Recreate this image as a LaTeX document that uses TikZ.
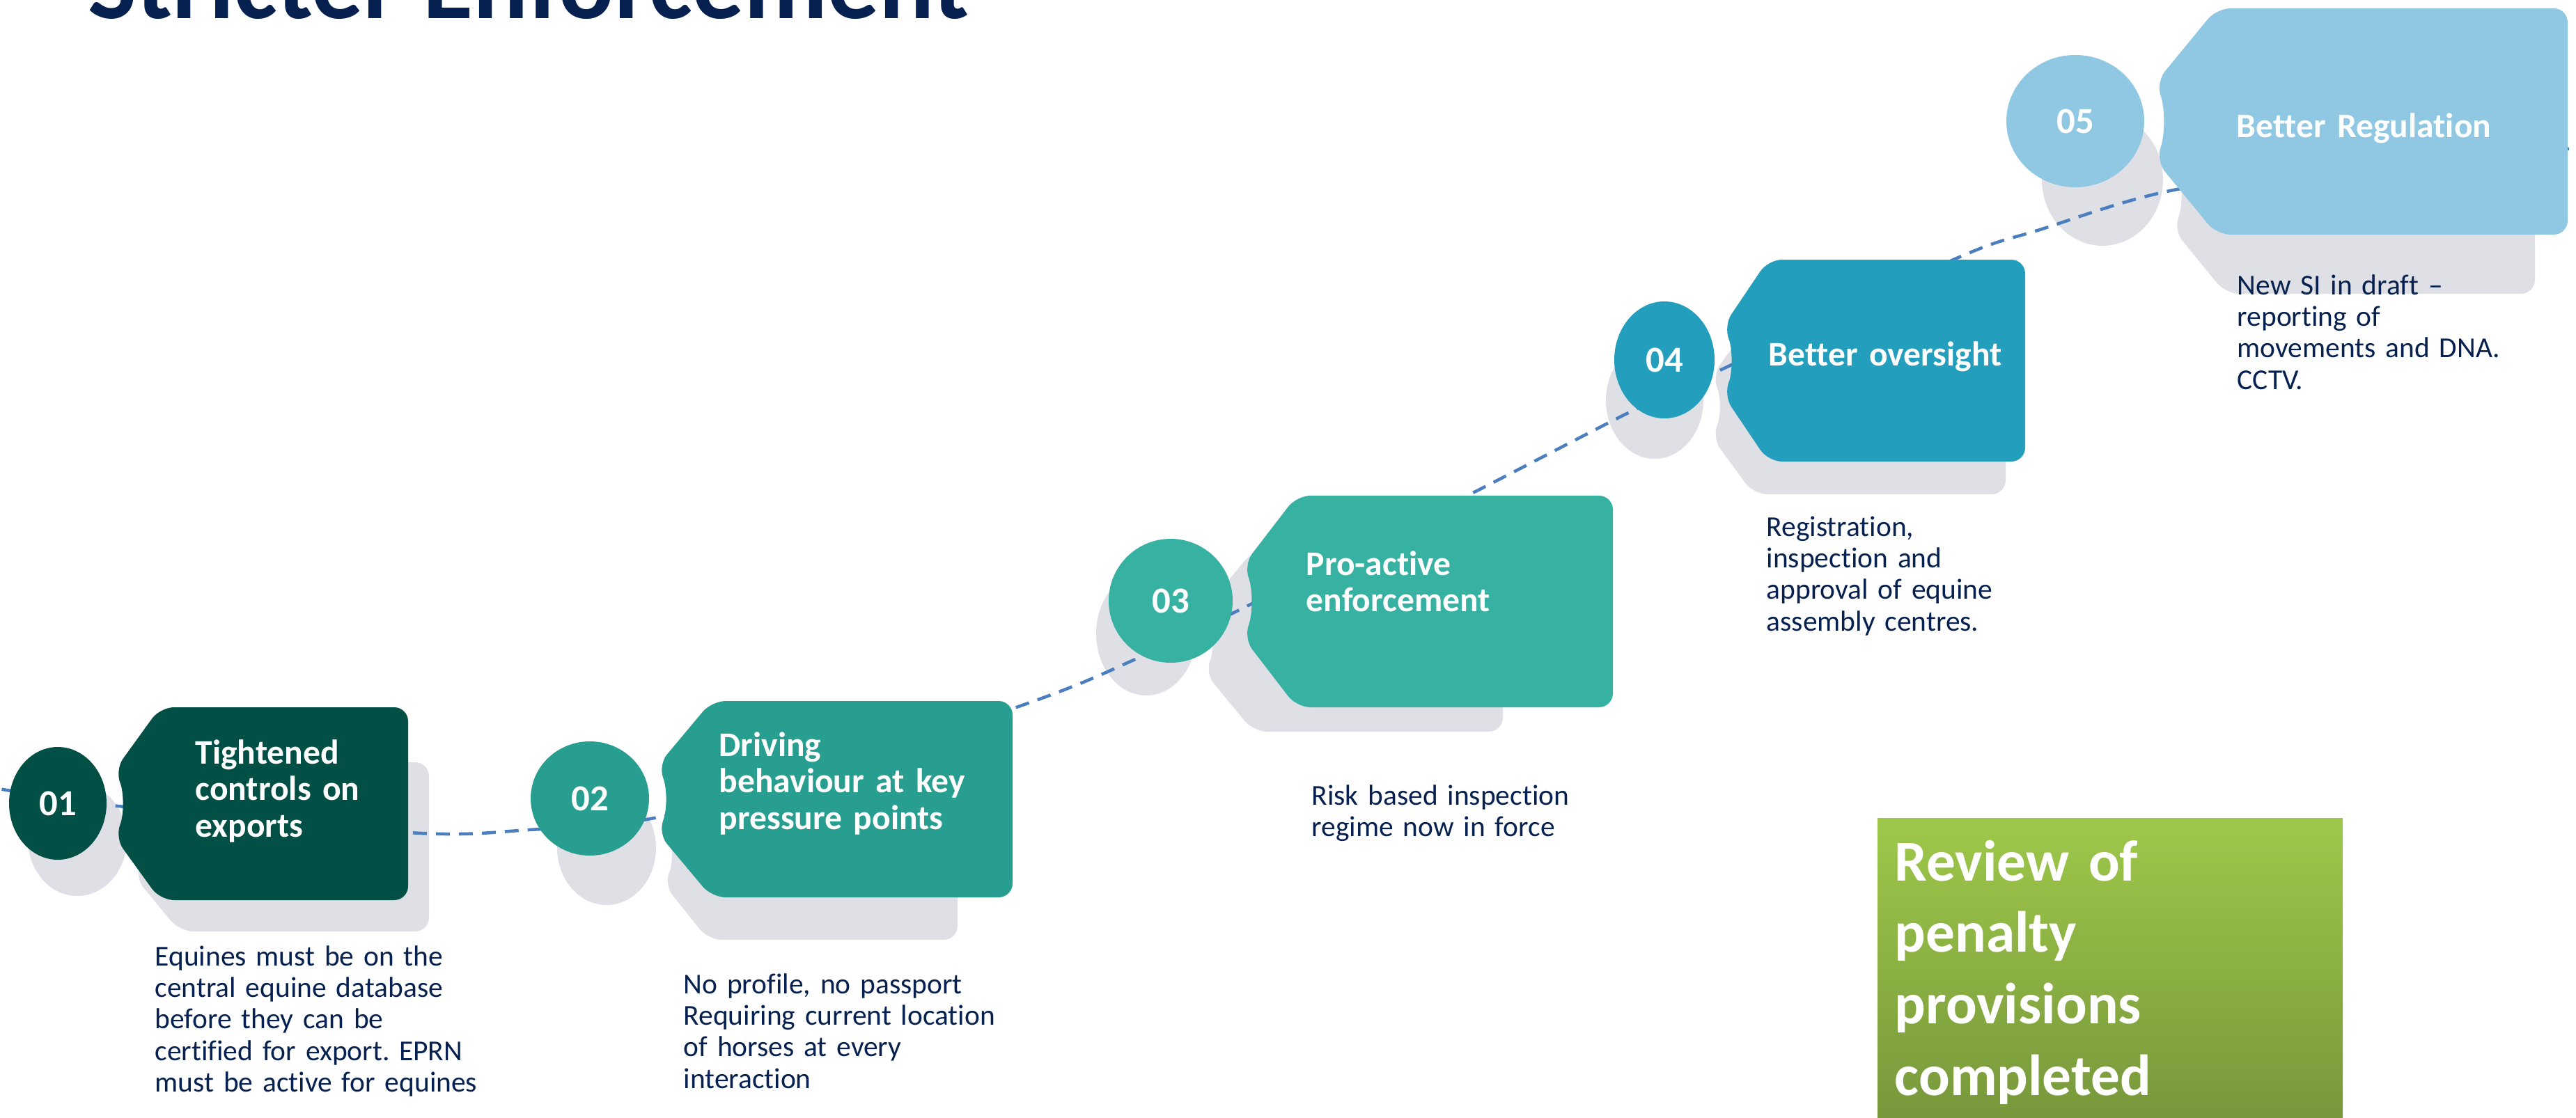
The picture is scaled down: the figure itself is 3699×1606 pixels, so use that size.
\documentclass[tikz,border=0pt]{standalone}
\usepackage{fontspec}
\setmainfont{Carlito}[Ligatures={NoCommon}]
\usetikzlibrary{shapes.geometric}
\frenchspacing

\definecolor{navy}{HTML}{062150}
\definecolor{stepa}{HTML}{024F45}
\definecolor{stepb}{HTML}{279E8F}
\definecolor{stepc}{HTML}{37B2A2}
\definecolor{stepd}{HTML}{249EBD}
\definecolor{stepe}{HTML}{90C8E4}
\definecolor{ghostgrey}{HTML}{DFE0E5}
\definecolor{trailblue}{HTML}{4A7EBF}
\definecolor{limetop}{HTML}{9EC84A}
\definecolor{limebot}{HTML}{74943A}

\begin{document}
\begin{tikzpicture}[x=0.1mm,y=-0.1mm,
  ghost/.style={fill=ghostgrey},
  numdisc/.style={ellipse,inner sep=0pt,text=white,font=\bfseries\fontsize{15}{15}\selectfont},
  tagtext/.style={anchor=base west,inner sep=0pt,text=white,text width=7cm,align=left,
    font=\bfseries\fontsize{14.1}{14.94}\selectfont},
  desc/.style={anchor=base west,inner sep=0pt,text=navy,text width=7cm,align=left,
    font=\fontsize{11.8}{12.9}\selectfont},
  trail/.style={draw=trailblue,line width=0.45mm,dash pattern=on 2mm off 1.3mm}]
\useasboundingbox (0,0) rectangle (3699,1606);

% shadows
\fill[ghost] (111,1206) ellipse [x radius=71,y radius=81];
\fill[ghost] (871,1218) ellipse [x radius=71,y radius=82];
\fill[ghost] (1646,910) ellipse [x radius=72,y radius=89];
\fill[ghost] (2376,575) ellipse [x radius=70,y radius=84];
\fill[ghost] (3019,258) ellipse [x radius=87,y radius=95];
\fill[ghost,rounded corners=2mm] (193,1259) .. controls (206,1231) and (206,1202) .. (193,1174)
  -- (258,1095) -- (616,1095) -- (616,1338) -- (258,1338) -- cycle;
\fill[ghost,rounded corners=2mm] (953,1270) .. controls (966,1242) and (966,1213) .. (953,1185)
  -- (1017,1105) -- (1375,1105) -- (1375,1350) -- (1017,1350) -- cycle;
\fill[ghost,rounded corners=2mm] (1730,966) .. controls (1743,936) and (1743,905) .. (1730,875)
  -- (1800,790) -- (2158,790) -- (2158,1051) -- (1800,1051) -- cycle;
\fill[ghost,rounded corners=2mm] (2458,628) .. controls (2471,599) and (2471,569) .. (2458,540)
  -- (2518,458) -- (2880,458) -- (2880,710) -- (2518,710) -- cycle;
\fill[ghost,rounded corners=2mm] (3121,330) .. controls (3134,297) and (3134,264) .. (3121,231)
  -- (3196,139) -- (3640,139) -- (3640,422) -- (3196,422) -- cycle;

% dashed trail
\coordinate (w0) at (-30,1128);
\coordinate (w1) at (170,1158);
\coordinate (w2) at (586,1196);
\coordinate (w3) at (760,1192);
\coordinate (w4) at (945,1174);
\coordinate (w5) at (1200,1103);
\coordinate (w6) at (1496,1003);
\coordinate (w7) at (1639,943);
\coordinate (w8) at (1790,871);
\coordinate (w9) at (2111,710);
\coordinate (w10) at (2350,587);
\coordinate (w11) at (2478,528);
\coordinate (w12) at (2805,373);
\coordinate (w13) at (2929,330);
\coordinate (w14) at (3126,272);
\coordinate (w15) at (3420,235);
\coordinate (w16) at (3730,211);
\draw[trail] plot[smooth,tension=0.55] coordinates {(w0) (w1) (w2) (w3) (w4) (w5) (w6) (w7) (w8)
  (w9) (w10) (w11) (w12) (w13) (w14) (w15) (w16)};

% tags
\fill[stepa,rounded corners=2mm] (165,1203) .. controls (178,1171) and (178,1138) .. (165,1106)
  -- (230,1016) -- (586,1016) -- (586,1293) -- (230,1293) -- cycle;
\fill[stepb,rounded corners=2mm] (945,1197) .. controls (958,1164) and (958,1132) .. (945,1099)
  -- (1022,1007) -- (1454,1007) -- (1454,1289) -- (1022,1289) -- cycle;
\fill[stepc,rounded corners=2mm] (1786,917) .. controls (1799,882) and (1799,846) .. (1786,811)
  -- (1862,712) -- (2316,712) -- (2316,1016) -- (1862,1016) -- cycle;
\fill[stepd,rounded corners=2mm] (2475,568) .. controls (2488,535) and (2488,501) .. (2475,468)
  -- (2539,373) -- (2908,373) -- (2908,663) -- (2539,663) -- cycle;
\fill[stepe,rounded corners=2mm] (3096,231) .. controls (3109,193) and (3109,156) .. (3096,118)
  -- (3183,12) -- (3687,12) -- (3687,337) -- (3183,337) -- cycle;

% numbered discs
\node[numdisc,fill=stepa,minimum width=14mm,minimum height=16.2mm] (n1) at (83,1154) {01};
\node[numdisc,fill=stepb,minimum width=17mm,minimum height=16.4mm] (n2) at (847,1147) {02};
\node[numdisc,fill=stepc,minimum width=17.8mm,minimum height=17.8mm] (n3) at (1681,863) {03};
\node[numdisc,fill=stepd,minimum width=14.4mm,minimum height=16.8mm] (n4) at (2390,517) {04};
\node[numdisc,fill=stepe,minimum width=19.8mm,minimum height=19mm] (n5) at (2980,174) {05};

% tag titles
\node[tagtext] (t1) at (280,1097) {Tightened\\controls on\\exports};
\node[tagtext] (t2) at (1032,1086) {Driving\\behaviour at key\\pressure points};
\node[tagtext] (t3) at (1875,826) {Pro-active\\enforcement};
\node[tagtext] (t4) at (2539,525) {Better oversight};
\node[tagtext] (t5) at (3211,197) {Better Regulation};

% descriptions
\node[desc] (d1) at (222,1387) {Equines must be on the\\central equine database\\before they can be\\certified for export. EPRN\\must be active for equines};
\node[desc] (d2) at (981,1427) {No profile, no passport\\Requiring current location\\of horses at every\\interaction};
\node[desc] (d3) at (1883,1156) {Risk based inspection\\regime now in force};
\node[desc] (d4) at (2536,770) {Registration,\\inspection and\\approval of equine\\assembly centres.};
\node[desc] (d5) at (3212,423) {New SI in draft –\\reporting of\\movements and DNA.\\CCTV.};

% penalty review
\shade[top color=limetop,bottom color=limebot] (2696,1175) rectangle (3364,1640);
\node[anchor=base west,inner sep=0pt,text=white,text width=6cm,align=left,
  font=\bfseries\fontsize{23.7}{29.3}\selectfont] (rev) at (2720,1265)
  {Review of\\penalty\\provisions\\completed};

% heading
\node[anchor=base west,inner sep=0pt,text=navy,font=\bfseries\fontsize{42}{46}\selectfont]
  (head) at (126,26) {Stricter Enforcement};
\end{tikzpicture}
\end{document}
